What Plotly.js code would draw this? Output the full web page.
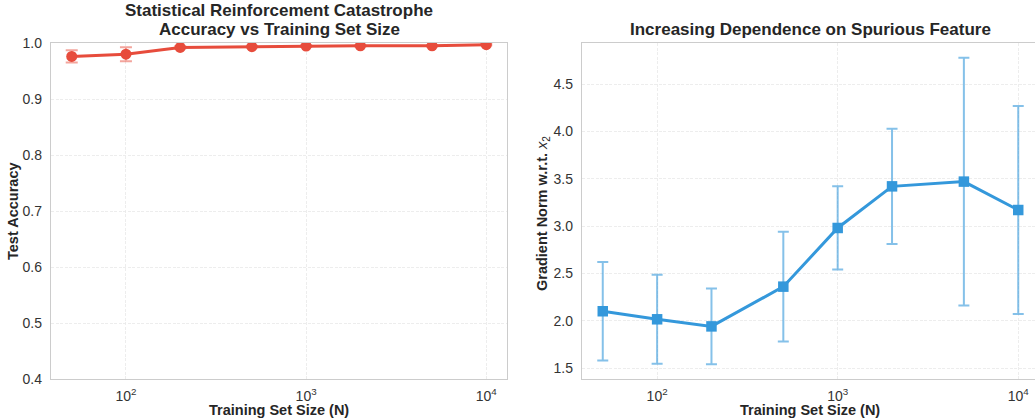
<!DOCTYPE html>
<html><head><meta charset="utf-8">
<script src="https://cdn.plot.ly/plotly-3.0.1.min.js"></script>
<style>html,body{margin:0;padding:0;overflow:hidden;background:#fff;width:1035px;height:420px}</style>
</head><body><div id="chart" style="width:1040px;height:420px"></div>
<script>
const trainSizes = [50, 100, 200, 500, 1000, 2000, 5000, 10000];
const accuracyMean = [0.976, 0.980, 0.992, 0.9935, 0.9945, 0.995, 0.995, 0.997];
const accuracyErr = [0.011, 0.0125, 0.002, 0.0015, 0.0015, 0.0012, 0.0012, 0.001];
const gradNormMean = [2.10, 2.015, 1.94, 2.36, 2.98, 3.42, 3.47, 3.17];
const gradNormErr = [0.52, 0.47, 0.40, 0.58, 0.44, 0.61, 1.31, 1.10];
const xTickVals = [100, 1000, 10000];
const xTickText = ['10<sup>2</sup>', '10<sup>3</sup>', '10<sup>4</sup>'];

const red = '#e74c3c', blue = '#3498db';
const font = 'Liberation Sans, Arial, sans-serif';

const traces = [
  {x: trainSizes, y: accuracyMean, type: 'scatter', mode: 'lines+markers',
   xaxis: 'x', yaxis: 'y',
   line: {color: red, width: 3}, marker: {color: red, size: 11, symbol: 'circle'},
   error_y: {type: 'data', array: accuracyErr, visible: true, color: 'rgba(231,76,60,0.5)', thickness: 2, width: 6}},
  {x: trainSizes, y: gradNormMean, type: 'scatter', mode: 'lines+markers',
   xaxis: 'x2', yaxis: 'y2',
   line: {color: blue, width: 3}, marker: {color: blue, size: 10.5, symbol: 'square'},
   error_y: {type: 'data', array: gradNormErr, visible: true, color: 'rgba(52,152,219,0.6)', thickness: 2, width: 5.5}}
];

const axBase = {
  showline: true, linecolor: '#cccccc', linewidth: 1.2, mirror: true,
  showgrid: true, gridcolor: '#e8e8e8', griddash: '3px,1.5px', gridwidth: 0.8,
  zeroline: false, ticks: '', tickfont: {family: font, size: 14, color: '#333333'}
};
const xBase = Object.assign({}, axBase, {type: 'log', range: [Math.log10(50) - 0.115, 4.115],
  tickvals: xTickVals, ticktext: xTickText, ticklabelstandoff: 4});

const titleFont = {family: font, size: 17, color: '#262626'};
const labelFont = {family: font, size: 14.5, color: '#262626'};

const layout = {
  width: 1040, height: 420, showlegend: false,
  paper_bgcolor: '#ffffff', plot_bgcolor: '#ffffff',
  margin: {l: 0, r: 0, t: 43, b: 41},
  font: {family: font, color: '#333333'},
  xaxis: Object.assign({}, xBase, {domain: [51/1040, 507/1040], anchor: 'y'}),
  yaxis: Object.assign({}, axBase, {domain: [0, 1], range: [0.4, 1.0], tickvals: [0.4,0.5,0.6,0.7,0.8,0.9,1.0], tickformat: '.1f', anchor: 'x', ticklabelstandoff: 5}),
  xaxis2: Object.assign({}, xBase, {domain: [582/1040, 1039/1040], anchor: 'y2'}),
  yaxis2: Object.assign({}, axBase, {domain: [0, 1], range: [1.384, 4.935], tickvals: [1.5,2.0,2.5,3.0,3.5,4.0,4.5], tickformat: '.1f', anchor: 'x2', ticklabelstandoff: 5}),
  annotations: [
    {text: '<b>Statistical Reinforcement Catastrophe</b>', xref: 'paper', yref: 'paper',
     x: 279/1040, y: (379 - 11)/336, xanchor: 'center', yanchor: 'middle', showarrow: false, font: titleFont},
    {text: '<b>Accuracy vs Training Set Size</b>', xref: 'paper', yref: 'paper',
     x: 279/1040, y: (379 - 30)/336, xanchor: 'center', yanchor: 'middle', showarrow: false, font: titleFont},
    {text: '<b>Increasing Dependence on Spurious Feature</b>', xref: 'paper', yref: 'paper',
     x: 810/1040, y: (379 - 30)/336, xanchor: 'center', yanchor: 'middle', showarrow: false, font: titleFont},
    {text: '<b>Training Set Size (N)</b>', xref: 'paper', yref: 'paper', x: 279/1040, y: (379 - 410)/336,
     xanchor: 'center', yanchor: 'middle', showarrow: false, font: labelFont},
    {text: '<b>Training Set Size (N)</b>', xref: 'paper', yref: 'paper', x: 810/1040, y: (379 - 410)/336,
     xanchor: 'center', yanchor: 'middle', showarrow: false, font: labelFont},
    {text: '<b>Test Accuracy</b>', xref: 'paper', yref: 'paper', x: 13/1040, y: (379 - 211)/336, textangle: -90,
     xanchor: 'center', yanchor: 'middle', showarrow: false, font: labelFont},
    {text: '<b>Gradient Norm w.r.t. </b><i>x</i><sub>2</sub>', xref: 'paper', yref: 'paper', x: 543/1040, y: (379 - 214)/336, textangle: -90,
     xanchor: 'center', yanchor: 'middle', showarrow: false, font: labelFont}
  ]
};

Plotly.newPlot('chart', traces, layout, {displayModeBar: false, staticPlot: true});
</script></body></html>
